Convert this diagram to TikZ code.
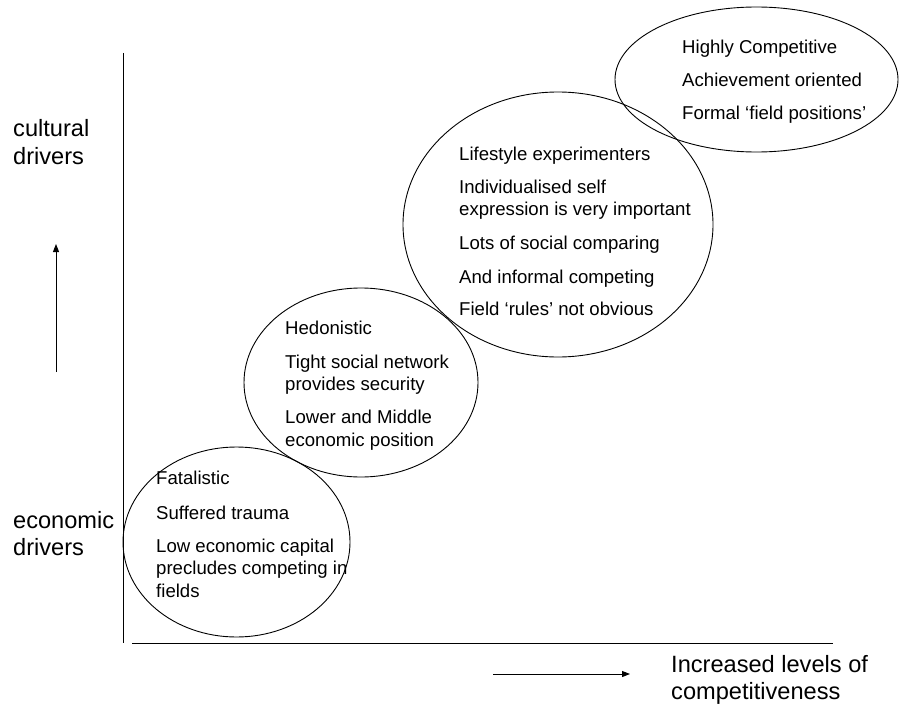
\documentclass[tikz,border=0pt]{standalone}
\usepackage{fontspec}
\setmainfont{Liberation Sans}
\usetikzlibrary{shapes.geometric,arrows.meta}
\tikzset{
  oval/.style={draw, ellipse, line width=0.9pt, inner sep=0pt, outer sep=0pt},
  axislabel/.style={anchor=base west, inner sep=0pt, font=\fontsize{23.6}{28}\selectfont},
  itemtext/.style={anchor=base west, inner sep=0pt, font=\fontsize{18.6}{22}\selectfont},
  axisline/.style={line width=1pt},
  dirarrow/.style={line width=1pt, -{Triangle[length=8pt,width=6pt]}}
}
\begin{document}
\begin{tikzpicture}[x=1pt,y=-1pt]
\useasboundingbox (0,0) rectangle (899,709);
% axes
\coordinate (vtop) at (123,53);
\coordinate (vbot) at (123,643);
\coordinate (hleft) at (132,643);
\coordinate (hright) at (833,643);
\draw[axisline] (vtop) -- (vbot);
\draw[axisline] (hleft) -- (hright);
% direction arrows
\coordinate (ua) at (56,372);
\coordinate (ub) at (56,244);
\draw[dirarrow] (ua) -- (ub);
\coordinate (ra) at (493,674);
\coordinate (rb) at (630,674);
\draw[dirarrow] (ra) -- (rb);
% axis labels
\node[axislabel] (cl1) at (13,136) {cultural};
\node[axislabel] (cl2) at (13,164) {drivers};
\node[axislabel] (el1) at (13,528) {economic};
\node[axislabel] (el2) at (13,555) {drivers};
\node[axislabel] (il1) at (671,672) {Increased levels of};
\node[axislabel] (il2) at (671,699) {competitiveness};
% ellipses
\node[oval, minimum width=227pt, minimum height=190pt] (e1) at (236.5,542) {};
\node[oval, minimum width=234pt, minimum height=189pt] (e2) at (361,382.5) {};
\node[oval, minimum width=310pt, minimum height=265pt] (e3) at (558,224.5) {};
\node[oval, minimum width=283pt, minimum height=145pt] (e4) at (756.5,79.5) {};
% bottom ellipse text
\node[itemtext] (a1) at (156,484) {Fatalistic};
\node[itemtext] (a2) at (156,519) {Suffered trauma};
\node[itemtext] (a3) at (156,552) {Low economic capital};
\node[itemtext] (a4) at (156,574) {precludes competing in};
\node[itemtext] (a5) at (156,597) {fields};
% middle ellipse text
\node[itemtext] (b1) at (285,334) {Hedonistic};
\node[itemtext] (b2) at (285,368) {Tight social network};
\node[itemtext] (b3) at (285,390) {provides security};
\node[itemtext] (b4) at (285,423) {Lower and Middle};
\node[itemtext] (b5) at (285,446) {economic position};
% large ellipse text
\node[itemtext] (c1) at (459,160) {Lifestyle experimenters};
\node[itemtext] (c2) at (459,193) {Individualised self};
\node[itemtext] (c3) at (459,215) {expression is very important};
\node[itemtext] (c4) at (459,249) {Lots of social comparing};
\node[itemtext] (c5) at (459,283) {And informal competing};
\node[itemtext] (c6) at (459,315) {Field ‘rules’ not obvious};
% top ellipse text
\node[itemtext] (d1) at (682,53) {Highly Competitive};
\node[itemtext] (d2) at (682,86) {Achievement oriented};
\node[itemtext] (d3) at (682,119) {Formal ‘field positions’};
\end{tikzpicture}
\end{document}
